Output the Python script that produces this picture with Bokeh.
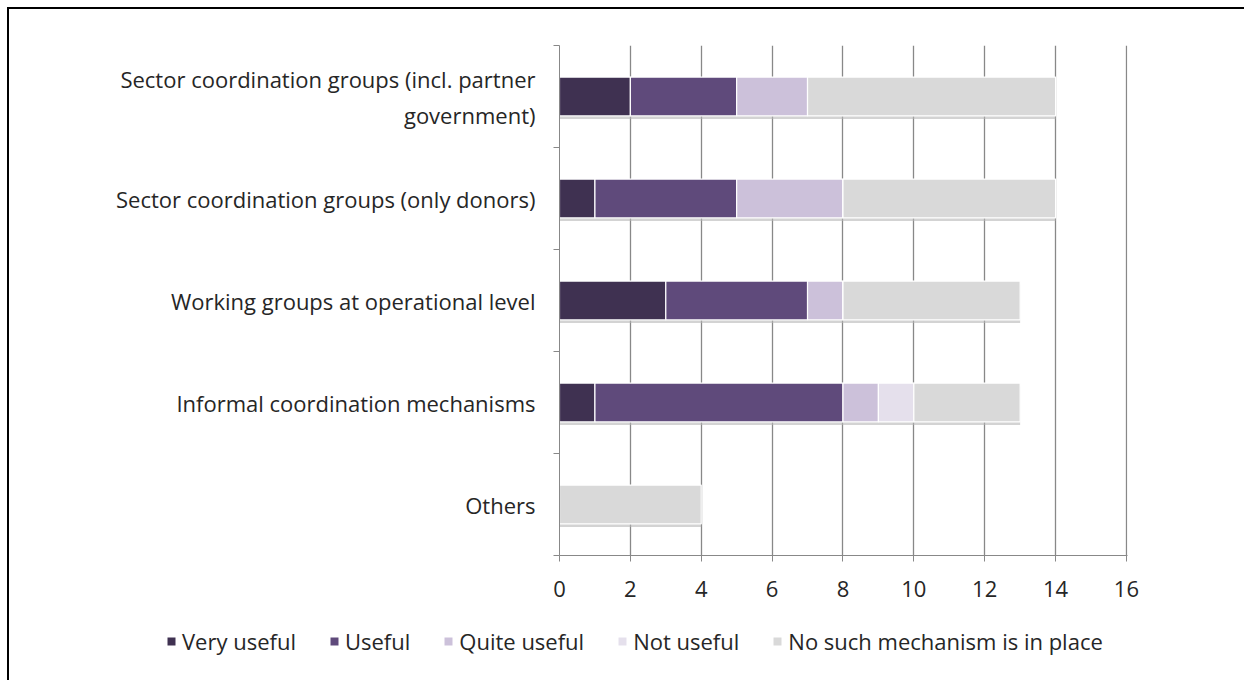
from bokeh.plotting import figure
from bokeh.layouts import column
from bokeh.models import (ColumnDataSource, FixedTicker, Range1d, Legend,
                          LegendItem)
from bokeh.embed import file_html
from bokeh.resources import INLINE

# Coordination mechanisms, listed top to bottom
categories = [
    "Sector coordination groups (incl. partner\ngovernment)",
    "Sector coordination groups (only donors)",
    "Working groups at operational level",
    "Informal coordination mechanisms",
    "Others",
]

# Number of responses per usefulness rating
very_useful = [2, 1, 3, 1, 0]
useful = [3, 4, 4, 7, 0]
quite_useful = [2, 3, 1, 1, 0]
not_useful = [0, 0, 0, 1, 0]
no_mechanism = [7, 6, 5, 3, 4]

series_names = ["Very useful", "Useful", "Quite useful", "Not useful",
                "No such mechanism is in place"]
series_keys = ["very", "useful", "quite", "notuse", "none"]
colors = ["#3f3151", "#5f4a7b", "#ccc1da", "#e5e0ec", "#d9d9d9"]

x_ticks = [0, 2, 4, 6, 8, 10, 12, 14, 16]

n = len(categories)
pos = [n - 1 - i for i in range(n)]          # first category on top
totals = [sum(v) for v in zip(very_useful, useful, quite_useful,
                              not_useful, no_mechanism)]

source = ColumnDataSource(dict(
    pos=pos,
    shadow_pos=[p_ - 0.03 for p_ in pos],
    total=totals,
    very=very_useful, useful=useful, quite=quite_useful,
    notuse=not_useful, none=no_mechanism,
))

FONT = "Open Sans"
FSIZE = "22px"
TEXT = "#262626"
GRID = "#888888"
BAR_H = 0.38

OFF = 9                       # page rule occupies the first pixels
W = 1244 - OFF
H_MAIN = 620 - OFF
H_LEG = 60

p = figure(width=W, height=H_MAIN, output_backend="svg",
           toolbar_location=None,
           x_range=Range1d(0, 16.03), y_range=Range1d(-0.5, n - 0.5),
           min_border_left=559 - OFF, min_border_right=1244 - 1127,
           min_border_top=45 - OFF, min_border_bottom=620 - 555)
p.outline_line_color = None
p.background_fill_color = "white"
p.border_fill_color = "white"

# soft drop shadow under each bar
p.hbar(y="shadow_pos", left=0, right="total", height=BAR_H, source=source,
       fill_color="#b5b5b5", fill_alpha=0.6, line_color=None)

p.hbar_stack(series_keys, y="pos", height=BAR_H, color=colors,
             line_color="white", line_width=1.2, source=source)

# x axis
p.xaxis.ticker = FixedTicker(ticks=x_ticks)
p.xaxis.axis_line_color = GRID
p.xaxis.major_tick_line_color = GRID
p.xaxis.major_tick_out = 6
p.xaxis.major_tick_in = 0
p.xaxis.minor_tick_line_color = None
p.xaxis.major_label_text_font = FONT
p.xaxis.major_label_text_font_size = FSIZE
p.xaxis.major_label_text_color = TEXT
p.xaxis.major_label_standoff = 19

# y axis: labels at band centres, small ticks on band boundaries
p.yaxis.ticker = FixedTicker(ticks=pos,
                             minor_ticks=[i - 0.5 for i in range(n + 1)])
p.yaxis.major_label_overrides = {pos[i]: categories[i] for i in range(n)}
p.yaxis.axis_line_color = GRID
p.yaxis.major_tick_line_color = None
p.yaxis.major_tick_out = 0
p.yaxis.major_tick_in = 0
p.yaxis.minor_tick_line_color = GRID
p.yaxis.minor_tick_out = 6
p.yaxis.minor_tick_in = 0
p.yaxis.major_label_text_font = FONT
p.yaxis.major_label_text_font_size = FSIZE
p.yaxis.major_label_text_color = TEXT
p.yaxis.major_label_standoff = 18

p.xgrid.ticker = FixedTicker(ticks=x_ticks)
p.xgrid.grid_line_color = GRID
p.xgrid.grid_line_width = 1.3
p.ygrid.grid_line_color = None

# legend strip underneath the chart; its swatch renderers stay hidden
leg = figure(width=W, height=H_LEG, output_backend="svg",
             toolbar_location=None, x_axis_type=None, y_axis_type=None,
             x_range=Range1d(0, 1), y_range=Range1d(0, 1),
             min_border=0)
leg.frame_align = False
leg.outline_line_color = None
leg.grid.grid_line_color = None
swatches = leg.hbar_stack(series_keys, y="pos", height=BAR_H, color=colors,
                          line_color=None, source=source)
for r in swatches:
    r.visible = False

legend = Legend(
    items=[LegendItem(label=series_names[i], renderers=[swatches[i]])
           for i in range(len(series_names))],
    orientation="horizontal", location=(166 - OFF, 24),
    glyph_width=10, glyph_height=10, label_standoff=6, spacing=33,
    padding=0, margin=0, border_line_color=None, background_fill_alpha=0,
    inactive_fill_alpha=0,
    label_text_font=FONT, label_text_font_size=FSIZE,
    label_text_color=TEXT,
)
leg.add_layout(legend, "center")

page = column(p, leg, spacing=0)
page.styles = {"border-left": "2px solid black",
               "border-top": "2px solid black",
               "margin-left": "7px", "margin-top": "7px"}

open("out.html", "w").write(file_html(page, INLINE))
